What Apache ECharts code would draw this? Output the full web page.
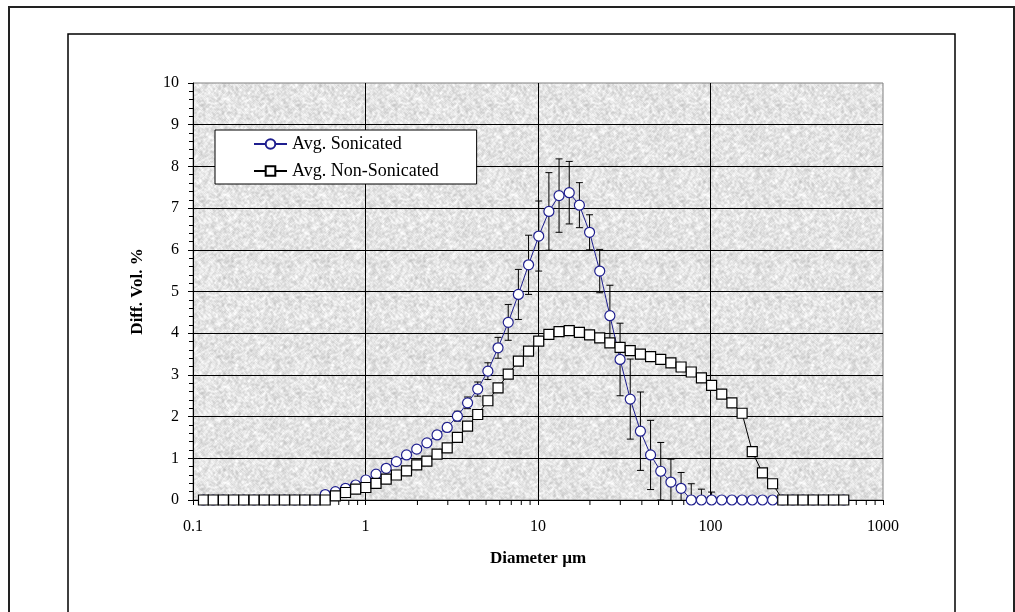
<!DOCTYPE html>
<html>
<head>
<meta charset="utf-8">
<script src="https://cdn.jsdelivr.net/npm/echarts@6/dist/echarts.min.js"></script>
<style>
  html, body { margin: 0; padding: 0; background: #fff; }
  #chart { width: 1015px; height: 612px; }
</style>
</head>
<body>
<div id="chart"></div>
<script>
// Particle size channels (µm)
const sizes = [
  0.115, 0.131, 0.150, 0.172, 0.197, 0.226, 0.259, 0.296, 0.339, 0.389,
  0.445, 0.510, 0.584, 0.669, 0.766, 0.877, 1.005, 1.151, 1.318, 1.510,
  1.729, 1.981, 2.269, 2.599, 2.976, 3.409, 3.905, 4.472, 5.122, 5.867,
  6.720, 7.697, 8.816, 10.097, 11.565, 13.246, 15.172, 17.377, 19.904, 22.797,
  26.111, 29.907, 34.255, 39.234, 44.938, 51.471, 58.953, 67.523, 77.339, 88.583,
  101.460, 116.210, 133.103, 152.453, 174.616, 200.000, 229.075, 262.376, 300.518, 344.206,
  394.244, 451.556, 517.200, 592.387
];

// Differential volume % — sonicated average
const sonicated = [
  0, 0, 0, 0, 0, 0, 0, 0, 0, 0,
  0, 0, 0.13, 0.20, 0.28, 0.36, 0.48, 0.62, 0.76, 0.92,
  1.08, 1.22, 1.37, 1.56, 1.74, 2.01, 2.33, 2.66, 3.09, 3.65,
  4.26, 4.93, 5.64, 6.33, 6.92, 7.30, 7.37, 7.07, 6.42, 5.49,
  4.42, 3.37, 2.42, 1.65, 1.08, 0.69, 0.43, 0.28, 0, 0,
  0, 0, 0, 0, 0, 0, 0, 0, 0, 0,
  0, 0, 0, 0
];

// Standard deviation of the sonicated runs
const sonicatedErr = [
  0, 0, 0, 0, 0, 0, 0, 0, 0, 0,
  0, 0, 0.04, 0.04, 0.04, 0.04, 0.04, 0.04, 0.05, 0.05,
  0.06, 0.07, 0.08, 0.09, 0.10, 0.12, 0.14, 0.17, 0.20, 0.25,
  0.43, 0.60, 0.71, 0.84, 0.93, 0.88, 0.75, 0.54, 0.42, 0.52,
  0.73, 0.87, 0.96, 0.94, 0.83, 0.69, 0.55, 0.38, 0.39, 0.26,
  0.19, 0, 0, 0, 0, 0, 0, 0, 0, 0,
  0, 0, 0, 0
];

// Differential volume % — non-sonicated average
const nonSonicated = [
  0, 0, 0, 0, 0, 0, 0, 0, 0, 0,
  0, 0, 0, 0.10, 0.18, 0.26, 0.30, 0.40, 0.50, 0.60,
  0.70, 0.84, 0.93, 1.10, 1.25, 1.50, 1.77, 2.05, 2.38, 2.69,
  3.02, 3.33, 3.57, 3.81, 3.97, 4.04, 4.06, 4.02, 3.96, 3.89,
  3.77, 3.66, 3.58, 3.50, 3.44, 3.37, 3.29, 3.19, 3.07, 2.93,
  2.75, 2.54, 2.33, 2.08, 1.16, 0.65, 0.39, 0, 0, 0,
  0, 0, 0, 0
];

const seriesNames = ['Avg. Sonicated', 'Avg. Non-Sonicated'];
const xTitle = 'Diameter µm';
const yTitle = 'Diff. Vol. %';

// Minor tick positions of the logarithmic diameter axis (2..9 within each decade)
const xMinorTicks = [];
[0.1, 1, 10, 100].forEach(function (d) {
  for (let m = 2; m <= 9; m++) xMinorTicks.push(+(d * m).toPrecision(3));
});

const FONT = '"Liberation Serif", "Times New Roman", serif';
const NAVY = '#1f1f8f';

// Grey granite-like texture for the plotting area
function makeTexture() {
  const c = document.createElement('canvas');
  const n = 96;
  c.width = n; c.height = n;
  const ctx = c.getContext('2d');
  const img = ctx.createImageData(n, n);
  let s = 12345;
  function rnd() { s = (s * 1103515245 + 12345) & 0x7fffffff; return s / 0x7fffffff; }
  const raw = new Float32Array(n * n);
  for (let i = 0; i < n * n; i++) raw[i] = rnd();
  for (let y = 0; y < n; y++) {
    for (let x = 0; x < n; x++) {
      let acc = 0;
      for (let dy = -1; dy <= 1; dy++) for (let dx = -1; dx <= 1; dx++) {
        acc += raw[((y + dy + n) % n) * n + ((x + dx + n) % n)];
      }
      const v = acc / 9;
      const g = Math.max(0, Math.min(255, Math.round(228 + (v - 0.5) * 70 + (raw[y * n + x] - 0.5) * 18)));
      const k = (y * n + x) * 4;
      img.data[k] = g; img.data[k + 1] = g; img.data[k + 2] = g; img.data[k + 3] = 255;
    }
  }
  ctx.putImageData(img, 0, 0);
  return c;
}

const chart = echarts.init(document.getElementById('chart'), null, { renderer: 'canvas' });

const pairs = function (ys) { return sizes.map(function (x, i) { return [x, ys[i]]; }); };

chart.setOption({
  animation: false,
  backgroundColor: '#ffffff',
  textStyle: { fontFamily: FONT, color: '#000' },
  grid: {
    left: 193, top: 83, width: 690, height: 417,
    show: true,
    backgroundColor: { image: makeTexture(), repeat: 'repeat' },
    borderColor: '#808080',
    borderWidth: 1
  },
  legend: {
    left: 215, top: 130,
    orient: 'vertical',
    padding: [5, 38, 4, 38],
    itemWidth: 33, itemHeight: 12, itemGap: 9,
    backgroundColor: '#ffffff',
    borderColor: '#000000', borderWidth: 1, borderRadius: 0,
    textStyle: { fontFamily: FONT, fontSize: 18, color: '#000' },
    data: seriesNames
  },
  xAxis: {
    type: 'log', logBase: 10, min: 0.1, max: 1000,
    name: xTitle, nameLocation: 'middle', nameGap: 50,
    nameTextStyle: { fontFamily: FONT, fontSize: 17, fontWeight: 'bold', color: '#000' },
    axisLine: { show: true, onZero: false, lineStyle: { color: '#000', width: 1 } },
    axisTick: { show: true, inside: false, length: 5, lineStyle: { color: '#000' } },
    axisLabel: { fontFamily: FONT, fontSize: 16, color: '#000', margin: 19,
      formatter: function (v) { return String(+v.toPrecision(3)); } },
    splitLine: { show: true, showMinLine: false, showMaxLine: false, lineStyle: { color: '#000', width: 1 } },
    minorTick: { show: false }
  },
  yAxis: {
    type: 'value', min: 0, max: 10, interval: 1,
    name: yTitle, nameLocation: 'middle', nameGap: 47, nameRotate: 90,
    nameTextStyle: { fontFamily: FONT, fontSize: 17, fontWeight: 'bold', color: '#000' },
    axisLine: { show: true, lineStyle: { color: '#000', width: 1 } },
    axisTick: { show: true, inside: false, length: 5, lineStyle: { color: '#000' } },
    minorTick: { show: true, splitNumber: 5, length: 4, lineStyle: { color: '#000' } },
    axisLabel: { fontFamily: FONT, fontSize: 16, color: '#000', margin: 14 },
    splitLine: { show: true, showMinLine: false, showMaxLine: false, lineStyle: { color: '#000', width: 1 } }
  },
  series: [
    {
      // minor ticks below the diameter axis
      type: 'custom',
      silent: true,
      clip: false,
      z: 1,
      data: xMinorTicks.map(function (v) { return [v, 0]; }),
      renderItem: function (params, api) {
        const p = api.coord([api.value(0), 0]);
        return {
          type: 'line',
          shape: { x1: p[0], y1: p[1], x2: p[0], y2: p[1] + 5 },
          style: { stroke: '#000', lineWidth: 1 }
        };
      }
    },
    {
      // ± error bars of the sonicated runs
      type: 'custom',
      silent: true,
      clip: true,
      z: 2,
      data: sizes.map(function (x, i) { return [x, sonicated[i], sonicatedErr[i]]; })
        .filter(function (d) { return d[2] > 0; }),
      renderItem: function (params, api) {
        const x = api.value(0), y = api.value(1), e = api.value(2);
        const hi = api.coord([x, y + e]);
        const lo = api.coord([x, y - e]);
        const cap = 3.5;
        return {
          type: 'group',
          children: [
            { type: 'line', shape: { x1: hi[0], y1: hi[1], x2: lo[0], y2: lo[1] }, style: { stroke: '#000', lineWidth: 1 } },
            { type: 'line', shape: { x1: hi[0] - cap, y1: hi[1], x2: hi[0] + cap, y2: hi[1] }, style: { stroke: '#000', lineWidth: 1 } },
            { type: 'line', shape: { x1: lo[0] - cap, y1: lo[1], x2: lo[0] + cap, y2: lo[1] }, style: { stroke: '#000', lineWidth: 1 } }
          ]
        };
      }
    },
    {
      name: seriesNames[0],
      type: 'line',
      z: 3,
      data: pairs(sonicated),
      symbol: 'circle',
      symbolSize: 10,
      showAllSymbol: true,
      lineStyle: { color: NAVY, width: 1 },
      itemStyle: { color: '#ffffff', borderColor: NAVY, borderWidth: 1.2 }
    },
    {
      name: seriesNames[1],
      type: 'line',
      z: 4,
      data: pairs(nonSonicated),
      symbol: 'rect',
      symbolSize: 10,
      showAllSymbol: true,
      lineStyle: { color: '#000', width: 1 },
      itemStyle: { color: '#ffffff', borderColor: '#000', borderWidth: 1.2 }
    }
  ],
  graphic: [
    {
      type: 'rect', silent: true, z: -10,
      shape: { x: 9, y: 7, width: 1005, height: 620 },
      style: { fill: 'none', stroke: '#222', lineWidth: 2 }
    },
    {
      type: 'rect', silent: true, z: -10,
      shape: { x: 68, y: 34, width: 887, height: 600 },
      style: { fill: 'none', stroke: '#000', lineWidth: 1.5 }
    }
  ]
});
</script>
</body>
</html>
